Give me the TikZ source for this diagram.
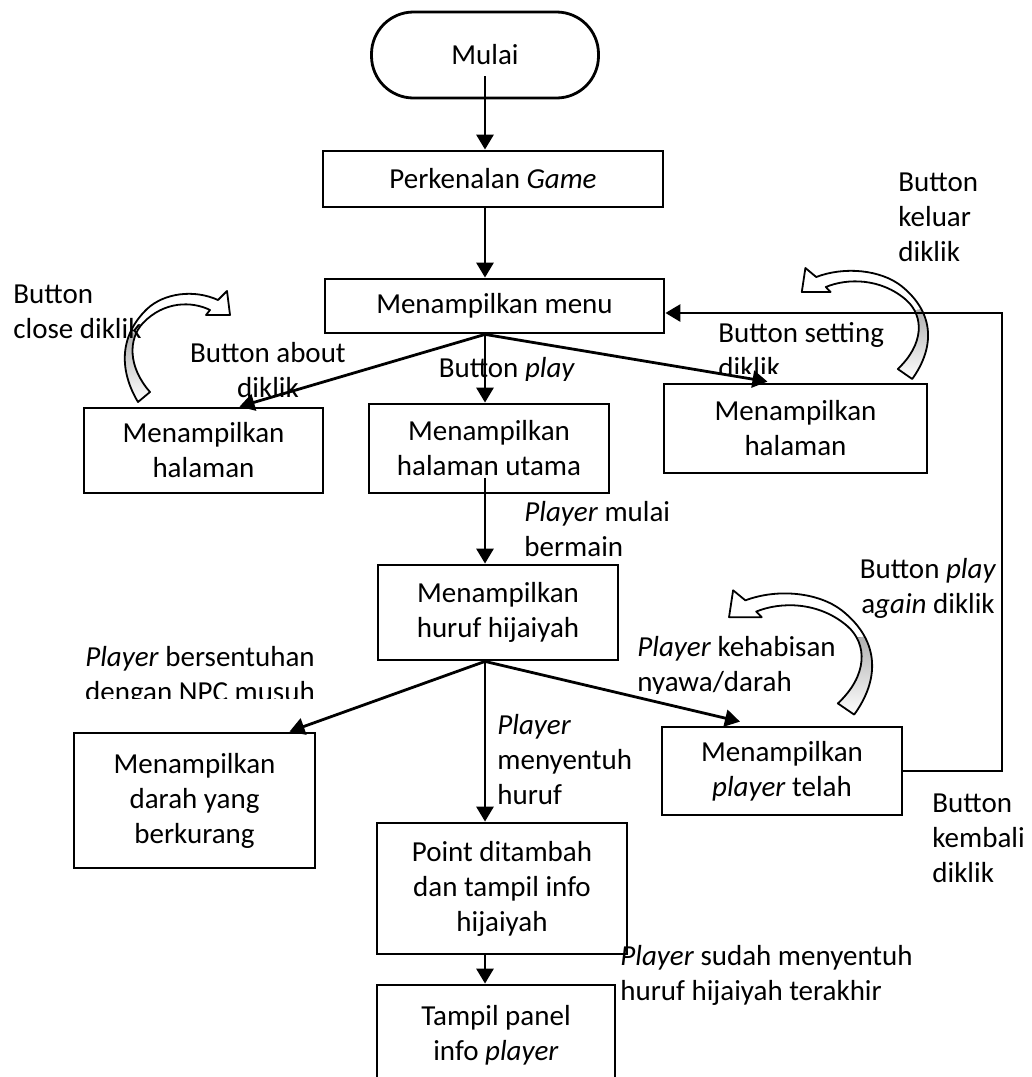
\documentclass[tikz,border=0pt]{standalone}
\usepackage{fontspec}
\setmainfont{Carlito}
\usetikzlibrary{arrows.meta,calc}
\definecolor{ink}{RGB}{0,0,0}
\definecolor{shade}{RGB}{192,192,192}
\newcommand{\bodyfont}{\fontsize{14.5}{17.5}\selectfont}
\newcommand{\curlband}{(-6,5) .. controls (-24,-25) and (-26,-60) .. (3,-88)
  .. controls (20,-104) and (50,-108) .. (74,-97) -- (83,-106) -- (86,-82) -- (62,-82) -- (66,-87)
  .. controls (48,-96) and (20,-96) .. (-1,-74) .. controls (-16,-58) and (-16,-30) .. (6,-5) -- cycle}
\tikzset{
  box/.style={draw=ink,line width=1.4pt,align=center,inner sep=0pt,font=\bodyfont},
  lbl/.style={inner sep=0pt,font=\bodyfont},
  arr/.style={-{Triangle[length=7.5pt,width=8.5pt]},line width=1.4pt,ink},
  curl/.pic={
    \fill[white] \curlband;
    \begin{scope}
      \clip (-40,15) -- (20,15) -- (20,-60) -- (-40,-68) -- cycle;
      \fill[shade] \curlband;
    \end{scope}
    \draw[ink,line width=0.9pt,line join=round] \curlband;
  },
}

\begin{document}
\begin{tikzpicture}[x=0.5pt,y=-0.5pt]
  \useasboundingbox (0,0) rectangle (1032,1077);
  \clip (0,0) rectangle (1032,1077);

  % curved block arrows
  \pic at (144,397) {curl};
  \pic[xscale=-1.2] at (905,374) {curl};
  \pic[xscale=-1.36,yscale=1.12] at (846,709) {curl};

  % boxes
  \node[box,rounded corners=21pt,minimum width=113.5pt,minimum height=43pt] (start) at (485,55) {Mulai};
  \node[box,minimum width=170pt,minimum height=28pt] (intro) at (493,179) {Perkenalan \textit{Game}};
  \node[box,minimum width=169.5pt,minimum height=27pt] (menu) at (494.5,306) {Menampilkan menu};
  \node[box,minimum width=119.5pt,minimum height=42.5pt] (about) at (203.5,450.5) {Menampilkan\\halaman};
  \node[box,minimum width=120pt,minimum height=44.5pt] (home) at (489,448.5) {Menampilkan\\halaman utama};
  \node[box,minimum width=131.5pt,minimum height=44.5pt] (setting) at (795.5,428.5) {Menampilkan\\halaman};
  \node[box,minimum width=120pt,minimum height=47.5pt] (letter) at (498,612.5) {Menampilkan\\huruf hijaiyah};
  \node[box,minimum width=120.5pt,minimum height=67.5pt] (blood) at (194.5,800.5) {Menampilkan\\darah yang\\berkurang};
  \node[box,minimum width=120pt,minimum height=44pt] (over) at (782,771) {Menampilkan\\\textit{player} telah};
  \node[box,minimum width=125pt,minimum height=65.5pt] (point) at (502,888.5) {Point ditambah\\dan tampil info\\hijaiyah};
  \node[box,minimum width=119pt,minimum height=50pt] (panel) at (496,1035) {Tampil panel\\info \textit{player}};

  % labels
  \node[lbl,anchor=west,align=left] (lclose) at (13,312) {Button\\close diklik};
  \begin{scope}
    \clip (150,330) rectangle (400,398);
    \node[lbl,align=center] (labout) at (268,370) {Button about\\diklik};
  \end{scope}
  \begin{scope}
    \clip (420,350) rectangle (600,380);
    \node[lbl] (lplay) at (507,370) {Button \textit{play}};
  \end{scope}
  \begin{scope}
    \clip (700,310) rectangle (900,373);
    \node[lbl,anchor=west,align=left] (lsetting) at (718,350) {Button setting\\diklik};
  \end{scope}
  \node[lbl,anchor=west,align=left] (lexit) at (898,217) {Button\\keluar\\diklik};
  \node[lbl,anchor=west,align=left] (lbegin) at (524,529) {\textit{Player} mulai\\bermain};
  \node[lbl,align=center] (lagain) at (928,588) {Button \textit{play}\\a\textit{gain} diklik};
  \begin{scope}
    \clip (620,630) rectangle (860,693);
    \node[lbl,anchor=west,align=left] (lempty) at (637,666) {\textit{Player} kehabisan\\nyawa/darah};
  \end{scope}
  \begin{scope}
    \clip (60,640) rectangle (340,698);
    \node[lbl,align=center] (lenemy) at (200,676) {\textit{Player} bersentuhan\\dengan NPC musuh};
  \end{scope}
  \begin{scope}
    \clip (490,700) rectangle (660,807);
    \node[lbl,anchor=west,align=left] (ltouch) at (497,760) {\textit{Player}\\menyentuh\\huruf};
  \end{scope}
  \node[lbl,anchor=west,align=left] (llast) at (620,975) {\textit{Player} sudah menyentuh\\huruf hijaiyah terakhir};
  \node[lbl,anchor=west,align=left] (lback) at (932,838) {Button\\kembali\\diklik};

  % connectors
  \draw[arr] ($(start.south)+(0,-23)$) -- (start |- intro.north);
  \draw[arr] (start |- intro.south) -- (start |- menu.north);
  \draw[arr] (start |- menu.south) -- ($(about.north)+(36,0)$);
  \draw[arr] (start |- menu.south) -- (start |- home.north);
  \draw[arr] (start |- menu.south) -- ($(setting.north)+(-28,-1)$);
  \draw[arr] ($(start |- home.south)+(0,-16)$) -- (start |- letter.north);
  \draw[arr] (start |- letter.south) -- ($(blood.north)+(95,0)$);
  \draw[arr] (start |- letter.south) -- ($(over.north)+(-42,-4)$);
  \draw[arr] (start |- letter.south) -- (start |- point.north);
  \draw[arr] (start |- point.south) -- (start |- panel.north);
  \coordinate (ret) at (1002,313);
  \draw[arr] (over.east) -| (ret) -- (ret -| menu.east);
\end{tikzpicture}
\end{document}
